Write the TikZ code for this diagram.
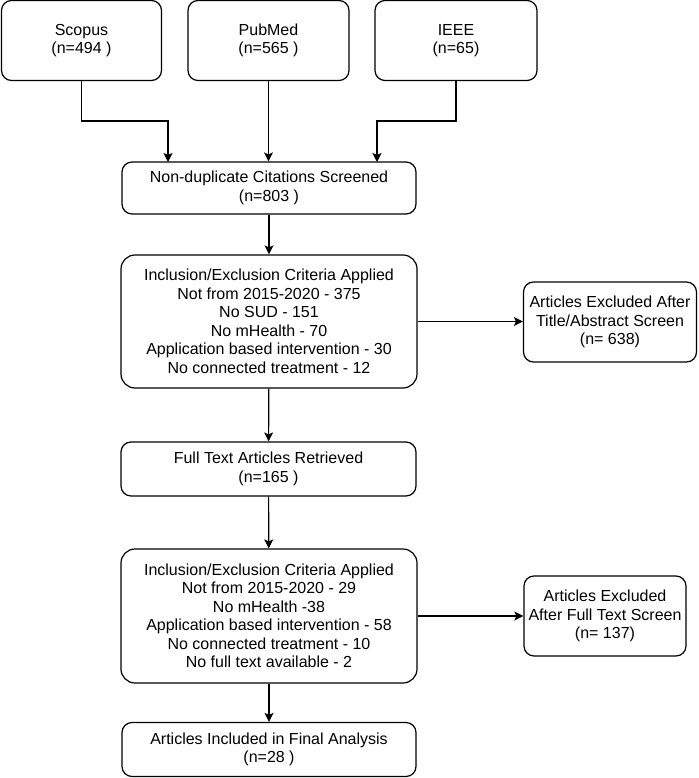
\documentclass[tikz,border=0pt]{standalone}
\usepackage{fontspec}
\setmainfont{Liberation Sans}
\usetikzlibrary{arrows.meta}

\begin{document}
\begin{tikzpicture}[x=1pt, y=-1pt,
    box/.style={draw, line width=1.2pt, rounded corners=10pt, align=center,
        inner sep=0pt, font=\fontsize{16}{18.5}\selectfont},
    arr/.style={line width=1.2pt, -{Stealth[length=9pt, width=9pt, inset=2pt]}}]
    \useasboundingbox (0,0) rectangle (698,778);

    % Sources
    \node[box, minimum width=160, minimum height=80] (scopus) at (81.5, 40.5) {Scopus\\(n=494 )};
    \node[box, minimum width=161, minimum height=80] (pubmed) at (268.5, 40.5) {PubMed\\(n=565 )};
    \node[box, minimum width=162, minimum height=80] (ieee) at (456, 40.5) {IEEE\\(n=65)};

    % Screening
    \node[box, minimum width=294, minimum height=52] (nondup) at (269, 188) {Non-duplicate Citations Screened\\(n=803 )};
    \node[box, rounded corners=14pt, minimum width=296, minimum height=133] (crit1) at (269, 321.5)
        {Inclusion/Exclusion Criteria Applied\\Not from 2015-2020 - 375\\No SUD - 151\\No mHealth - 70\\Application based intervention - 30\\No connected treatment - 12};
    \node[box, minimum width=173, minimum height=80] (excl1) at (610, 322) {Articles Excluded After\\Title/Abstract Screen\\(n= 638)};
    \node[box, minimum width=295, minimum height=54] (fulltext) at (268.5, 469) {Full Text Articles Retrieved\\(n=165 )};
    \node[box, rounded corners=14pt, minimum width=296, minimum height=134] (crit2) at (269, 616)
        {Inclusion/Exclusion Criteria Applied\\Not from 2015-2020 - 29\\No mHealth -38\\Application based intervention - 58\\No connected treatment - 10\\No full text available - 2};
    \node[box, minimum width=162, minimum height=80] (excl2) at (605, 616) {Articles Excluded\\After Full Text Screen\\(n= 137)};
    \node[box, minimum width=294, minimum height=54] (final) at (269, 749.5) {Articles Included in Final Analysis\\(n=28 )};

    % Arrows
    \coordinate (scopusIn) at (168, 162);
    \coordinate (ieeeIn) at (377, 162);
    \draw[arr] (scopus.south) -- ++(0,40) -| (scopusIn);
    \draw[arr] (pubmed.south) -- (pubmed.south |- nondup.north);
    \draw[arr] (ieee.south) -- ++(0,40) -| (ieeeIn);
    \draw[arr] (nondup) -- (crit1);
    \draw[arr] (crit1.east) -- (crit1.east -| excl1.west);
    \draw[arr] (crit1) -- (fulltext);
    \draw[arr] (fulltext) -- (crit2);
    \draw[arr] (crit2.east) -- (crit2.east -| excl2.west);
    \draw[arr] (crit2) -- (final);
\end{tikzpicture}
\end{document}
